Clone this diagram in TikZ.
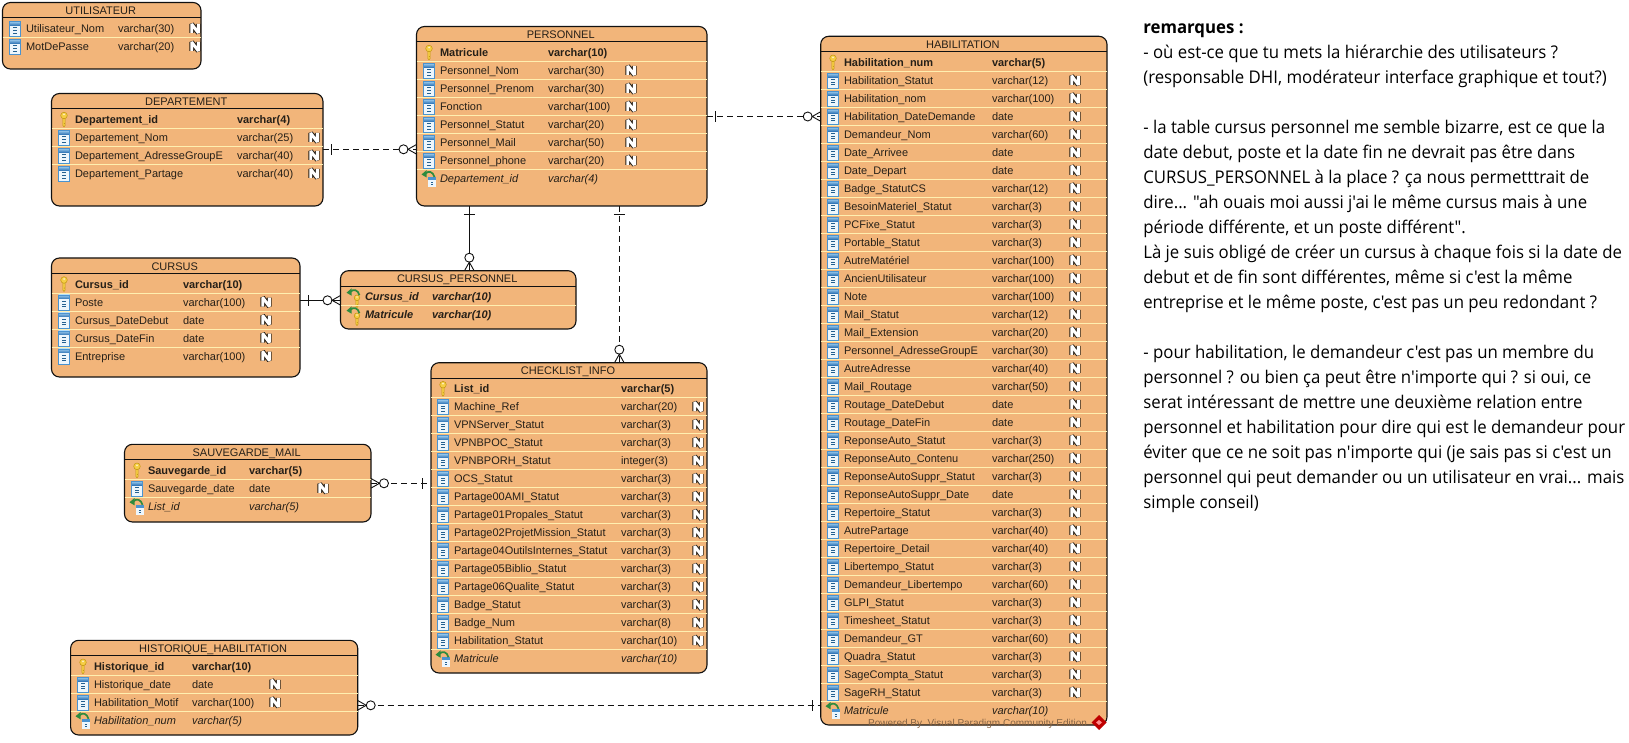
\documentclass[tikz,border=0pt]{standalone}
\usepackage{fontspec}
\setmainfont{Liberation Sans}
\newfontfamily\remfont[FakeStretch=0.96]{Open Sans}
\usetikzlibrary{calc}
\catcode`\_=12
\definecolor{tabfill}{HTML}{F2B57A}
\definecolor{sepline}{HTML}{FFEFB0}
\definecolor{inkline}{HTML}{111111}
\definecolor{rowink}{HTML}{262018}
\definecolor{iconblue}{HTML}{4A93D0}
\definecolor{icontop}{HTML}{2F74B5}
\definecolor{iconlight}{HTML}{9CCBEE}
\definecolor{iconpale}{HTML}{EDF6FC}
\definecolor{icondark}{HTML}{24608F}
\definecolor{keygold}{HTML}{F6CE45}
\definecolor{keyedge}{HTML}{C2960F}
\definecolor{fkgreen}{HTML}{2E8B3E}
\tikzset{
  tabbox/.style={draw=inkline,fill=tabfill,line width=1.1pt,rounded corners=8pt,inner sep=0pt,outer sep=0pt,anchor=north west},
  rowbase/.style={inner sep=0pt,outer sep=0pt,anchor=base west,text=rowink,font=\fontsize{11}{12}\selectfont},
  rowC/.style={rowbase},
  rowK/.style={rowbase,font=\fontsize{11}{12}\selectfont\bfseries},
  rowF/.style={rowbase,font=\fontsize{11}{12}\selectfont\itshape},
  rowP/.style={rowbase,font=\fontsize{11}{12}\selectfont\bfseries\itshape},
  titletext/.style={inner sep=0pt,outer sep=0pt,anchor=base,text=rowink,font=\fontsize{11}{12}\selectfont},
  remtext/.style={inner sep=0pt,outer sep=0pt,anchor=base west,text=black,font=\remfont\fontsize{17.5}{18}\selectfont},
  relsolid/.style={draw=inkline,line width=0.9pt},
  reldash/.style={draw=inkline,line width=0.9pt,dash pattern=on 6pt off 4pt},
  columnicon/.pic={
    \fill[iconpale] (-5.5,-7.5) rectangle (5.5,7.5);
    \shade[top color=iconlight,bottom color=icontop] (-5.5,-3.5) rectangle (5.5,-7.5);
    \draw[iconblue,line width=.5pt] (-5.5,-7.5) rectangle (5.5,7.5);
    \foreach \q in {-1,1.6,4.2}{\fill[icondark] (-2.2,\q-.5) rectangle (2.2,\q+.5);}
  },
  keyicon/.pic={
    \draw[keyedge,fill=keygold,line width=.5pt] (-1.2,-2) -- (-1.2,6) -- (0,7.5) -- (1.2,6) -- (1.2,4.6) -- (.4,4.1) -- (1.2,3.5) -- (1.2,-2) -- cycle;
    \draw[keyedge,fill=keygold,line width=.5pt] (0,-4) circle[radius=3.3];
    \fill[white!70!keygold] (0,-5) circle[radius=1];
  },
  arrowicon/.pic={
    \draw[fkgreen,line width=1.7pt] (-14.5,-5) .. controls (-11.5,-8) and (-7,-7) .. (-5.5,-1.5);
    \fill[fkgreen] (-18.5,-4) -- (-13.5,-8.3) -- (-13.5,-1) -- cycle;
  },
  smallcolumn/.pic={
    \fill[iconpale] (0,0) rectangle (8.4,10);
    \fill[iconblue] (0,0) rectangle (8.4,3);
    \foreach \q in {4.6,6.8}{\fill[icondark] (3,\q) rectangle (5.4,\q+1);}
  },
  nullN/.pic={
    \draw[rowink,line width=4.8pt,line join=miter,miter limit=1.5] (-3.3,4.5) -- (-3.3,-4.5) -- (3.3,4.5) -- (3.3,-4.5);
    \draw[white,line width=2.9pt,line join=miter,miter limit=1.5] (-3.3,4.5) -- (-3.3,-4.5) -- (3.3,4.5) -- (3.3,-4.5);
  },
  nullO/.pic={},
  manymark/.pic={
    \draw[draw=inkline,line width=.9pt,solid,fill=white] (-13,0) circle[radius=4.5];
    \draw[draw=inkline,line width=.9pt,solid] (0,-4.8) -- (-8.5,0) -- (0,4.8);
  },
  onemark/.pic={
    \draw[draw=inkline,line width=.9pt,solid] (8.5,-5.5) -- (8.5,5.5);
  }
}
\newcommand\ertable[9]{%
  \def\curname{#1}\def\ty{#3}\def\txa{#2}\def\txb{#4}%
  \def\cola{#7}\def\colb{#8}\def\coln{#9}%
  \pgfmathsetmacro\tw{#4-#2}\pgfmathsetmacro\th{#5-#3}%
  \node[tabbox,minimum width=\tw pt,minimum height=\th pt] (#1) at (#2,-#3) {};
  \pgfmathsetmacro\hy{#3+15.3}%
  \draw[inkline,line width=1pt] (#2,-\hy) -- (#4,-\hy);
  \pgfmathsetmacro\tmx{(#2+#4)/2-1}\pgfmathsetmacro\tby{#3+12}%
  \node[titletext] (#1title) at (\tmx,-\tby) {#6};
}
\newcommand\rows[1]{%
  \foreach \t/\a/\b/\n [count=\i] in {#1}{%
    \pgfmathsetmacro\yc{\ty+26+18*(\i-1)}%
    \pgfmathsetmacro\ybase{\yc+4.1}%
    \ifnum\i>1
      \pgfmathsetmacro\ysep{\yc-8.8}%
      \draw[sepline,line width=.9pt] (\txa,-\ysep) -- (\txb,-\ysep);
    \fi
    \pic[yscale=-1] at (\cola,-\yc) {icon\t};
    \pic[yscale=-1] at (\coln,-\yc) {null\n};
    \node[row\t] (\curname a\i) at (\cola,-\ybase) {\a};
    \node[row\t] (\curname b\i) at (\colb,-\ybase) {\b};
  }%
}
\tikzset{
  iconC/.pic={\pic[transform shape] at (-10.8,.4) {columnicon};},
  iconK/.pic={\pic[transform shape] at (-11,0) {keyicon};},
  iconF/.pic={\pic[transform shape] at (-12,-1.3) {smallcolumn};\pic[transform shape] at (0,0) {arrowicon};},
  iconP/.pic={\pic[transform shape,scale=.85] at (-8,4.5) {keyicon};\pic[transform shape] at (0,0) {arrowicon};},
}
\newcommand\remline[2]{\node[remtext] at (1143.3,-#1) {#2};}
\begin{document}
\begin{tikzpicture}[x=1pt,y=1pt]
\useasboundingbox (0,0) rectangle (1629,-743);
\fill[white] (0,0) rectangle (1629,-743);

\ertable{util}{2.5}{2.5}{201}{69}{UTILISATEUR}{26}{118}{195}
\rows{C/Utilisateur_Nom/varchar(30)/N,C/MotDePasse/varchar(20)/N}

\ertable{dep}{51.5}{93.5}{323}{206}{DEPARTEMENT}{75}{237}{314}
\rows{K/Departement_id/varchar(4)/O,C/Departement_Nom/varchar(25)/N,C/Departement_AdresseGroupE/varchar(40)/N,C/Departement_Partage/varchar(40)/N}

\ertable{per}{416.5}{26.5}{707}{206}{PERSONNEL}{440}{548}{631}
\rows{K/Matricule/varchar(10)/O,C/Personnel_Nom/varchar(30)/N,C/Personnel_Prenom/varchar(30)/N,C/Fonction/varchar(100)/N,C/Personnel_Statut/varchar(20)/N,C/Personnel_Mail/varchar(50)/N,C/Personnel_phone/varchar(20)/N,F/Departement_id/varchar(4)/O}

\ertable{cur}{51.5}{258}{300}{377}{CURSUS}{75}{183}{266}
\rows{K/Cursus_id/varchar(10)/O,C/Poste/varchar(100)/N,C/Cursus_DateDebut/date/N,C/Cursus_DateFin/date/N,C/Entreprise/varchar(100)/N}

\ertable{cpe}{340.5}{270.7}{576}{329}{CURSUS_PERSONNEL}{365}{432}{560}
\rows{P/Cursus_id/varchar(10)/O,P/Matricule/varchar(10)/O}

\ertable{chk}{431}{362.7}{707}{673}{CHECKLIST_INFO}{454}{621}{698}
\rows{K/List_id/varchar(5)/O,C/Machine_Ref/varchar(20)/N,C/VPNServer_Statut/varchar(3)/N,C/VPNBPOC_Statut/varchar(3)/N,C/VPNBPORH_Statut/integer(3)/N,C/OCS_Statut/varchar(3)/N,C/Partage00AMI_Statut/varchar(3)/N,C/Partage01Propales_Statut/varchar(3)/N,C/Partage02ProjetMission_Statut/varchar(3)/N,C/Partage04OutilsInternes_Statut/varchar(3)/N,C/Partage05Biblio_Statut/varchar(3)/N,C/Partage06Qualite_Statut/varchar(3)/N,C/Badge_Statut/varchar(3)/N,C/Badge_Num/varchar(8)/N,C/Habilitation_Statut/varchar(10)/N,F/Matricule/varchar(10)/O}

\ertable{sav}{124.5}{444.3}{371}{522}{SAUVEGARDE_MAIL}{148}{249}{323}
\rows{K/Sauvegarde_id/varchar(5)/O,C/Sauvegarde_date/date/N,F/List_id/varchar(5)/O}

\ertable{his}{70.6}{640.3}{357.7}{735}{HISTORIQUE_HABILITATION}{94}{192}{275}
\rows{K/Historique_id/varchar(10)/O,C/Historique_date/date/N,C/Habilitation_Motif/varchar(100)/N,F/Habilitation_num/varchar(5)/O}

\ertable{hab}{820.7}{36.3}{1107}{725}{HABILITATION}{844}{992}{1075}
\rows{K/Habilitation_num/varchar(5)/O,C/Habilitation_Statut/varchar(12)/N,C/Habilitation_nom/varchar(100)/N,C/Habilitation_DateDemande/date/N,C/Demandeur_Nom/varchar(60)/N,C/Date_Arrivee/date/N,C/Date_Depart/date/N,C/Badge_StatutCS/varchar(12)/N,C/BesoinMateriel_Statut/varchar(3)/N,C/PCFixe_Statut/varchar(3)/N,C/Portable_Statut/varchar(3)/N,C/AutreMatériel/varchar(100)/N,C/AncienUtilisateur/varchar(100)/N,C/Note/varchar(100)/N,C/Mail_Statut/varchar(12)/N,C/Mail_Extension/varchar(20)/N,C/Personnel_AdresseGroupE/varchar(30)/N,C/AutreAdresse/varchar(40)/N,C/Mail_Routage/varchar(50)/N,C/Routage_DateDebut/date/N,C/Routage_DateFin/date/N,C/ReponseAuto_Statut/varchar(3)/N,C/ReponseAuto_Contenu/varchar(250)/N,C/ReponseAutoSuppr_Statut/varchar(3)/N,C/ReponseAutoSuppr_Date/date/N,C/Repertoire_Statut/varchar(3)/N,C/AutrePartage/varchar(40)/N,C/Repertoire_Detail/varchar(40)/N,C/Libertempo_Statut/varchar(3)/N,C/Demandeur_Libertempo/varchar(60)/N,C/GLPI_Statut/varchar(3)/N,C/Timesheet_Statut/varchar(3)/N,C/Demandeur_GT/varchar(60)/N,C/Quadra_Statut/varchar(3)/N,C/SageCompta_Statut/varchar(3)/N,C/SageRH_Statut/varchar(3)/N,F/Matricule/varchar(10)/O}

% connectors
\draw[reldash] (dep.east |- 0,-149.3) -- pic[pos=0]{onemark} pic[pos=1]{manymark} (per.west |- 0,-149.3);
\draw[reldash] (per.east |- 0,-116.5) -- pic[pos=0]{onemark} pic[pos=1]{manymark} (hab.west |- 0,-116.5);
\draw[relsolid] (469.3,0 |- per.south) -- pic[pos=0,rotate=-90]{onemark} pic[pos=1,rotate=-90]{manymark} (469.3,0 |- cpe.north);
\draw[reldash] (619.3,0 |- per.south) -- pic[pos=0,rotate=-90]{onemark} pic[pos=1,rotate=-90]{manymark} (619.3,0 |- chk.north);
\draw[relsolid] (cur.east |- 0,-300.3) -- pic[pos=0]{onemark} pic[pos=1]{manymark} (cpe.west |- 0,-300.3);
\draw[reldash] (sav.east |- 0,-483.3) -- pic[pos=0,xscale=-1]{manymark} pic[pos=1,xscale=-1]{onemark} (chk.west |- 0,-483.3);
\draw[reldash] (his.east |- 0,-705.3) -- pic[pos=0,xscale=-1]{manymark} pic[pos=1,xscale=-1]{onemark} (hab.west |- 0,-705.3);

% watermark
\node[inner sep=0pt,anchor=base west,text=black!45!tabfill,font=\fontsize{10}{12}\selectfont] (wm) at (868,-726.5) {Powered By\ \ Visual Paradigm Community Edition};
\fill[red!75!black] (1099,-715) -- (1106.5,-722.5) -- (1099,-730) -- (1091.5,-722.5) -- cycle;
\fill[red!45!white] (1099,-720) -- (1102,-722.5) -- (1099,-725) -- (1096,-722.5) -- cycle;

% remarks
\remline{33.3}{\bfseries remarques :}
\remline{58.3}{- où est-ce que tu mets la hiérarchie des utilisateurs ?}
\remline{83.3}{(responsable DHI, modérateur interface graphique et tout?)}
\remline{133.3}{- la table cursus personnel me semble bizarre, est ce que la}
\remline{158.3}{date debut, poste et la date fin ne devrait pas être dans}
\remline{183.3}{CURSUS_PERSONNEL à la place ? ça nous permetttrait de}
\remline{208.3}{dire... "ah ouais moi aussi j'ai le même cursus mais à une}
\remline{233.3}{période différente, et un poste différent".}
\remline{258.3}{Là je suis obligé de créer un cursus à chaque fois si la date de}
\remline{283.3}{debut et de fin sont différentes, même si c'est la même}
\remline{308.3}{entreprise et le même poste, c'est pas un peu redondant ?}
\remline{358.3}{- pour habilitation, le demandeur c'est pas un membre du}
\remline{383.3}{personnel ? ou bien ça peut être n'importe qui ? si oui, ce}
\remline{408.3}{serat intéressant de mettre une deuxième relation entre}
\remline{433.3}{personnel et habilitation pour dire qui est le demandeur pour}
\remline{458.3}{éviter que ce ne soit pas n'importe qui (je sais pas si c'est un}
\remline{483.3}{personnel qui peut demander ou un utilisateur en vrai... mais}
\remline{508.3}{simple conseil)}
\end{tikzpicture}
\end{document}
